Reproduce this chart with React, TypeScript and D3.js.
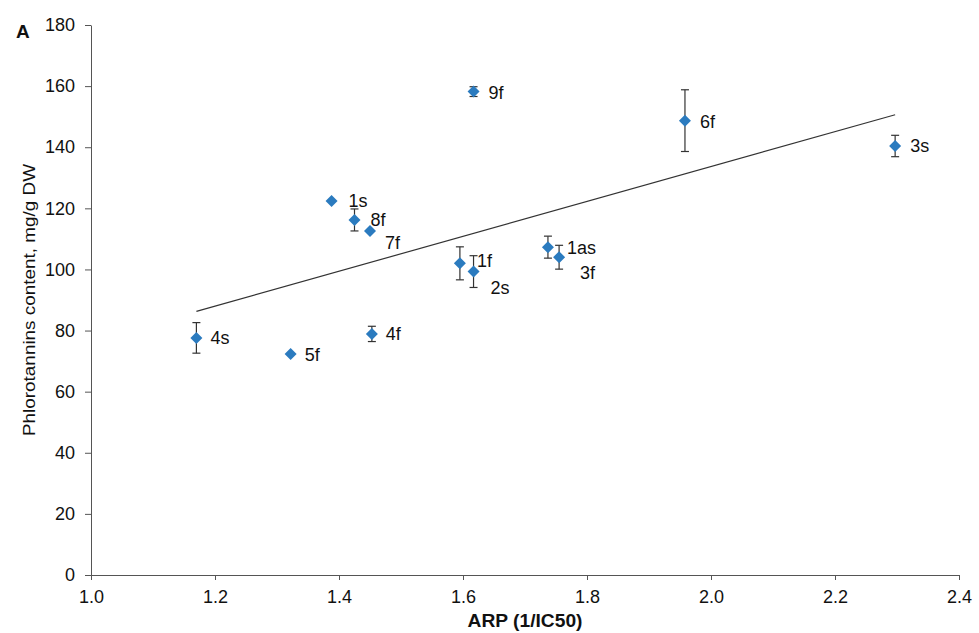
import React, { useEffect, useRef } from 'react';
import * as d3 from 'd3';

// sample names, ARP (1/IC50), phlorotannins (mg/g DW) and SD
const samples = ['4s', '5f', '4f', '1s', '8f', '7f', '1f', '2s', '1as', '3f', '9f', '6f', '3s'];
const arp = [1.170, 1.322, 1.453, 1.388, 1.425, 1.450, 1.595, 1.617, 1.737, 1.755, 1.617, 1.958, 2.297];
const phloro = [77.6, 72.3, 78.9, 122.4, 116.2, 112.6, 102.0, 99.3, 107.3, 104.0, 158.2, 148.7, 140.4];
const sd = [5.0, 0, 2.5, 0, 3.6, 0, 5.4, 5.2, 3.6, 3.9, 1.6, 10.1, 3.5];

const xTicks = [1.0, 1.2, 1.4, 1.6, 1.8, 2.0, 2.2, 2.4];
const yTicks = [0, 20, 40, 60, 80, 100, 120, 140, 160, 180];

export default function App() {
    const ref = useRef<SVGSVGElement>(null);

    useEffect(() => {
        const svg = d3.select(ref.current);
        svg.selectAll('*').remove();

        const font = '"Liberation Sans", Arial, sans-serif';
        const x = d3.scaleLinear().domain([1.0, 2.4]).range([91, 959]);
        const y = d3.scaleLinear().domain([0, 180]).range([575, 25]);

        // x axis
        const gx = svg.append('g')
            .attr('transform', `translate(0, ${y(0)})`)
            .call(d3.axisBottom(x).tickValues(xTicks).tickFormat(d3.format('.1f')).tickSizeInner(5).tickSizeOuter(0));
        gx.selectAll('text').attr('font-size', 18).attr('font-family', font).attr('fill', '#111').attr('y', 15);
        gx.selectAll('line, path').attr('stroke', '#555');

        // y axis
        const gy = svg.append('g')
            .attr('transform', `translate(${x(1.0)}, 0)`)
            .call(d3.axisLeft(y).tickValues(yTicks).tickFormat(d3.format('d')).tickSizeInner(6).tickSizeOuter(0));
        gy.selectAll('text').attr('font-size', 18).attr('font-family', font).attr('fill', '#111').attr('x', -16);
        gy.selectAll('line, path').attr('stroke', '#555');

        // axis titles
        svg.append('text')
            .attr('x', 525).attr('y', 627)
            .attr('text-anchor', 'middle').attr('font-size', 18).attr('font-weight', 'bold')
            .attr('font-family', font).attr('fill', '#111')
            .attr('textLength', 115).attr('lengthAdjust', 'spacingAndGlyphs')
            .text('ARP (1/IC50)');
        svg.append('text')
            .attr('transform', `translate(35, ${(y(0) + y(180)) / 2}) rotate(-90)`)
            .attr('text-anchor', 'middle').attr('font-size', 17)
            .attr('font-family', font).attr('fill', '#111')
            .attr('textLength', 272).attr('lengthAdjust', 'spacingAndGlyphs')
            .text('Phlorotannins content, mg/g DW');
        svg.append('text')
            .attr('x', 16).attr('y', 38)
            .attr('font-size', 19).attr('font-weight', 'bold')
            .attr('font-family', font).attr('fill', '#111')
            .text('A');

        // linear trendline (least squares)
        const mx = d3.mean(arp) as number;
        const my = d3.mean(phloro) as number;
        const slope = d3.sum(arp, (v, i) => (v - mx) * (phloro[i] - my)) / d3.sum(arp, v => (v - mx) ** 2);
        const icpt = my - slope * mx;
        const [x0, x1] = d3.extent(arp) as [number, number];
        svg.append('line')
            .attr('x1', x(x0)).attr('y1', y(icpt + slope * x0))
            .attr('x2', x(x1)).attr('y2', y(icpt + slope * x1))
            .attr('stroke', '#333').attr('stroke-width', 1.2);

        const data = samples.map((s, i) => ({ name: s, x: arp[i], y: phloro[i], e: sd[i] }));

        // error bars
        const eb = svg.append('g').attr('stroke', '#333').attr('stroke-width', 1.2);
        data.filter(d => d.e > 0).forEach(d => {
            const cx = x(d.x);
            eb.append('line').attr('x1', cx).attr('x2', cx).attr('y1', y(d.y - d.e)).attr('y2', y(d.y + d.e));
            eb.append('line').attr('x1', cx - 4).attr('x2', cx + 4).attr('y1', y(d.y - d.e)).attr('y2', y(d.y - d.e));
            eb.append('line').attr('x1', cx - 4).attr('x2', cx + 4).attr('y1', y(d.y + d.e)).attr('y2', y(d.y + d.e));
        });

        // diamond markers
        const diamond = d3.symbol().type(d3.symbolSquare).size(72);
        svg.append('g').selectAll('path')
            .data(data)
            .enter()
            .append('path')
            .attr('d', diamond)
            .attr('transform', d => `translate(${x(d.x)}, ${y(d.y)}) rotate(45)`)
            .attr('fill', '#2B7BBF');

        // point labels
        const offsets: Record<string, [number, number]> = {
            '4s': [14, 0], '5f': [14, 0], '4f': [14, 0], '1s': [17, 0], '8f': [16, 0],
            '7f': [15, 12], '1f': [17, -3], '2s': [17, 16], '1as': [19, 0], '3f': [21, 15],
            '9f': [15, 1], '6f': [15, 1], '3s': [15, 0],
        };
        svg.append('g').selectAll('text')
            .data(data)
            .enter()
            .append('text')
            .attr('x', d => x(d.x) + offsets[d.name][0])
            .attr('y', d => y(d.y) + offsets[d.name][1])
            .attr('dy', '0.36em')
            .attr('font-size', 18).attr('font-family', font).attr('fill', '#111')
            .text(d => d.name);
    }, []);

    return (
        <svg ref={ref} width={979} height={633}
            style={{ position: 'absolute', left: 0, top: 0, background: '#fff' }} />
    );
}
